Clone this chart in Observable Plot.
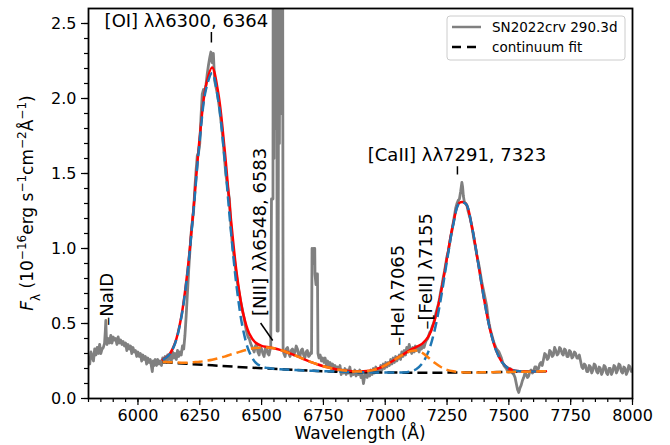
<!DOCTYPE html>
<html><head><meta charset="utf-8">
<script src="https://cdn.jsdelivr.net/npm/d3@7"></script>
<script src="https://cdn.jsdelivr.net/npm/@observablehq/plot@0.6"></script>
<style>body{margin:0;background:#fff} #chart{width:670px;height:445px}</style>
</head><body><div id="chart"></div>
<script>
// Observed spectrum: [wavelength (Å), flux (1e-16 erg/s/cm2/Å)]
const spectrum = [
[5800,0.27],[5805,0.23],[5810,0.31],[5815,0.28],[5820,0.25],[5825,0.33],[5830,0.29],[5835,0.34],[5840,0.30],[5845,0.36],
[5850,0.30],[5855,0.33],[5860,0.34],[5865,0.37],[5868,0.45],[5870,0.52],[5872,0.42],[5875,0.36],[5880,0.40],[5885,0.37],
[5890,0.42],[5895,0.37],[5900,0.41],[5905,0.39],[5910,0.40],[5915,0.36],[5920,0.41],[5925,0.37],[5930,0.39],[5935,0.36],
[5940,0.38],[5945,0.35],[5950,0.37],[5955,0.32],[5960,0.36],[5965,0.33],[5970,0.35],[5975,0.30],[5980,0.34],[5985,0.31],
[5990,0.32],[5995,0.28],[6000,0.31],[6005,0.28],[6010,0.30],[6015,0.25],[6020,0.29],[6025,0.26],[6030,0.28],[6035,0.23],
[6040,0.27],[6045,0.24],[6050,0.26],[6055,0.21],[6058,0.18],[6062,0.25],[6065,0.22],[6070,0.26],[6075,0.22],[6080,0.26],
[6085,0.23],[6090,0.25],[6095,0.22],[6100,0.27],[6105,0.24],[6110,0.28],[6115,0.24],[6120,0.29],[6125,0.26],[6130,0.28],
[6135,0.25],[6140,0.31],[6145,0.27],[6150,0.30],[6155,0.26],[6160,0.32],[6165,0.28],[6170,0.31],[6175,0.29],[6180,0.35],
[6185,0.33],[6190,0.42],[6195,0.55],[6200,0.70],[6205,0.85],[6210,0.98],[6215,1.10],[6220,1.18],[6225,1.25],[6230,1.40],
[6235,1.52],[6240,1.62],[6245,1.64],[6250,1.70],[6255,1.88],[6260,2.03],[6265,2.06],[6270,2.04],[6275,2.09],[6280,2.16],
[6285,2.22],[6290,2.27],[6295,2.31],[6300,2.24],[6305,2.30],[6310,2.12],[6315,2.08],[6320,2.04],[6325,1.99],[6330,1.93],
[6335,1.86],[6340,1.79],[6345,1.70],[6350,1.60],[6355,1.50],[6360,1.44],[6365,1.38],[6370,1.33],[6375,1.17],[6380,1.06],
[6385,0.99],[6390,0.93],[6395,0.86],[6400,0.80],[6405,0.74],[6410,0.70],[6415,0.65],[6420,0.61],[6425,0.57],[6430,0.53],
[6435,0.48],[6440,0.44],[6445,0.41],[6450,0.40],[6455,0.37],[6460,0.35],[6465,0.33],[6470,0.31],[6475,0.35],[6480,0.36],
[6485,0.31],[6490,0.29],[6495,0.34],[6500,0.33],[6505,0.30],[6510,0.28],[6515,0.33],[6520,0.34],[6525,0.30],[6530,0.29],
[6535,0.33],[6537,0.34],[6540,1.33],[6546,1.33],[6547,3.2],[6550,1.6],[6552,3.2],[6555,1.8],[6558,3.2],[6561,3.2],
[6563,0.45],[6567,0.45],[6569,3.2],[6572,1.7],[6575,3.2],[6578,1.9],[6581,3.2],[6585,3.2],
[6587,0.33],[6590,0.30],[6595,0.28],[6600,0.33],[6605,0.34],[6610,0.30],[6615,0.28],[6620,0.32],[6625,0.33],[6630,0.29],
[6635,0.31],[6640,0.35],[6645,0.33],[6650,0.29],[6655,0.28],[6660,0.32],[6665,0.33],[6670,0.29],[6675,0.27],[6680,0.31],
[6685,0.32],[6690,0.28],[6695,0.29],[6700,0.31],[6702,0.30],[6704,1.00],[6708,0.90],[6711,1.00],[6715,1.00],[6716,0.83],
[6720,0.76],[6723,0.83],[6726,0.83],[6728,0.30],
[6732,0.27],[6737,0.29],[6742,0.25],[6747,0.27],[6752,0.24],[6757,0.27],[6762,0.22],[6767,0.25],[6772,0.22],[6777,0.24],
[6782,0.20],[6787,0.23],[6792,0.20],[6797,0.22],[6802,0.18],[6807,0.21],[6812,0.19],[6817,0.22],[6822,0.16],[6827,0.19],
[6832,0.17],[6837,0.20],[6842,0.16],[6847,0.19],[6852,0.17],[6857,0.21],[6862,0.15],[6867,0.18],[6872,0.16],[6877,0.19],
[6882,0.15],[6887,0.18],[6892,0.16],[6897,0.19],[6902,0.14],[6907,0.16],[6912,0.10],[6917,0.15],[6922,0.17],[6927,0.14],
[6932,0.18],[6937,0.15],[6942,0.19],[6947,0.16],[6952,0.20],[6957,0.17],[6962,0.21],[6967,0.18],[6972,0.20],[6977,0.18],
[6982,0.22],[6987,0.19],[6992,0.23],[6997,0.20],[7002,0.24],[7007,0.21],[7012,0.24],[7017,0.22],[7022,0.26],[7027,0.23],
[7032,0.27],[7037,0.24],[7042,0.28],[7047,0.25],[7052,0.27],[7057,0.29],[7062,0.26],[7067,0.31],[7072,0.28],[7077,0.32],
[7082,0.29],[7087,0.34],[7092,0.31],[7097,0.36],[7102,0.33],[7107,0.30],[7112,0.34],[7117,0.31],[7122,0.35],[7127,0.32],
[7132,0.34],[7137,0.31],[7142,0.35],[7147,0.33],[7152,0.36],[7157,0.34],[7162,0.37],[7167,0.39],[7172,0.40],[7180,0.44],
[7185,0.45],[7190,0.48],[7195,0.50],[7200,0.53],[7205,0.57],[7210,0.60],[7215,0.63],[7220,0.67],[7225,0.72],[7230,0.76],
[7235,0.81],[7240,0.85],[7245,0.90],[7250,0.95],[7255,0.98],[7260,1.03],[7265,1.08],[7270,1.12],[7275,1.17],[7280,1.22],
[7285,1.27],[7290,1.30],[7295,1.32],[7300,1.33],[7305,1.38],[7310,1.44],[7313,1.41],[7316,1.35],[7320,1.31],[7325,1.30],
[7330,1.29],[7335,1.25],[7340,1.22],[7345,1.19],[7350,1.15],[7355,1.10],[7360,1.05],[7365,1.01],[7370,0.96],[7375,0.92],
[7380,0.88],[7385,0.83],[7390,0.78],[7395,0.74],[7400,0.70],[7405,0.66],[7410,0.62],[7415,0.55],[7420,0.50],[7425,0.46],
[7430,0.43],[7435,0.40],[7440,0.37],[7445,0.35],[7450,0.33],[7455,0.32],[7460,0.31],[7465,0.29],[7470,0.27],[7475,0.24],
[7480,0.22],[7485,0.21],[7490,0.20],[7495,0.18],[7500,0.18],[7505,0.20],[7510,0.19],[7515,0.17],[7520,0.16],[7525,0.14],
[7530,0.10],[7535,0.06],[7540,0.04],[7545,0.07],[7550,0.09],[7555,0.12],[7560,0.14],[7565,0.17],[7570,0.16],[7575,0.14],
[7580,0.15],[7585,0.18],[7590,0.19],[7595,0.17],[7600,0.18],[7605,0.21],[7610,0.21],[7615,0.19],[7620,0.20],[7625,0.23],
[7630,0.24],[7635,0.22],[7640,0.26],[7645,0.30],[7650,0.29],[7655,0.26],[7660,0.27],[7665,0.32],[7670,0.31],[7675,0.28],
[7680,0.29],[7685,0.34],[7690,0.32],[7695,0.29],[7700,0.30],[7705,0.34],[7710,0.33],[7715,0.30],[7720,0.29],[7725,0.33],
[7730,0.32],[7735,0.28],[7740,0.28],[7745,0.32],[7750,0.31],[7755,0.27],[7760,0.28],[7765,0.31],[7770,0.30],[7775,0.27],
[7780,0.27],[7785,0.29],[7790,0.25],[7795,0.21],[7800,0.20],[7805,0.23],[7810,0.22],[7815,0.18],[7820,0.18],[7825,0.22],
[7830,0.21],[7835,0.17],[7840,0.19],[7845,0.23],[7850,0.22],[7855,0.18],[7860,0.17],[7865,0.21],[7870,0.20],[7875,0.16],
[7880,0.18],[7885,0.22],[7890,0.21],[7895,0.17],[7900,0.16],[7905,0.20],[7910,0.20],[7915,0.16],[7920,0.18],[7925,0.22],
[7930,0.21],[7935,0.17],[7940,0.19],[7945,0.23],[7950,0.22],[7955,0.18],[7960,0.17],[7965,0.21],[7970,0.20],[7975,0.16],
[7980,0.18],[7985,0.22],[7990,0.21],[7995,0.18],[8000,0.19]];

// Continuum fit
const contWave = [6100,6200,6300,6400,6500,6600,6700,6800,6900,7000,7100,7200,7300,7400,7500,7650];
const contFlux = [0.243,0.231,0.221,0.211,0.202,0.193,0.185,0.179,0.175,0.173,0.172,0.172,0.173,0.175,0.177,0.182];

// Line-fit curves sampled every 25 Å
const fitWave = [6100,6125,6150,6175,6200,6225,6250,6275,6300,6325,6350,6375,6400,6425,6450,6475,6500,
6525,6550,6575,6600,6625,6650,6675,6700,6725,6750,6775,6800,6825,6850,6875,6900,6925,6950,6975,7000,
7025,7050,7075,7100,7125,7150,7175,7200,7225,7250,7275,7300,7325,7350,7375,7400,7425,7450,7475,7500,
7525,7550,7575,7600,7625,7650];
const totalFit = [0.259,0.290,0.370,0.542,0.844,1.272,1.744,2.087,2.207,2.034,1.669,1.213,0.826,0.569,0.433,0.373,0.351,
0.343,0.335,0.324,0.310,0.294,0.277,0.259,0.243,0.228,0.215,0.205,0.195,0.189,0.184,0.180,0.180,0.183,0.189,0.202,0.221,
0.245,0.272,0.296,0.322,0.343,0.366,0.414,0.522,0.704,0.939,1.166,1.305,1.300,1.150,0.911,0.659,0.452,0.314,0.236,0.199,
0.185,0.181,0.179,0.180,0.181,0.182];
const blueComp = [0.258,0.288,0.367,0.537,0.836,1.259,1.725,2.060,2.170,1.985,1.606,1.134,0.732,0.460,0.311,0.241,0.213,
0.203,0.198,0.195,0.193,0.191,0.189,0.187,0.185,0.184,0.182,0.181,0.179,0.178,0.177,0.176,0.175,0.175,0.174,0.174,0.173,
0.173,0.173,0.174,0.180,0.195,0.234,0.314,0.456,0.666,0.921,1.158,1.302,1.299,1.150,0.911,0.659,0.452,0.314,0.236,0.199,
0.185,0.181,0.179,0.180,0.181,0.182];
const orangeComp = [0.244,0.242,0.240,0.239,0.239,0.242,0.245,0.251,0.258,0.268,0.279,0.293,0.305,0.318,0.329,0.336,0.340,
0.340,0.335,0.324,0.310,0.294,0.277,0.259,0.243,0.228,0.215,0.205,0.195,0.189,0.184,0.180,0.180,0.183,0.189,0.202,0.221,
0.245,0.271,0.294,0.314,0.320,0.304,0.272,0.238,0.210,0.191,0.181,0.176,0.174,0.174,0.174,0.175,0.175,0.176,0.176,0.177,
0.178,0.179,0.179,0.180,0.181,0.182];

// Annotations
const annText = ["[OI] λλ6300, 6364", "[CaII] λλ7291, 7323", "–NaID", "[NII] λλ6548, 6583", "–HeI λ7065", "–[FeII] λ7155"];
const annX = [6196, 7290, 5876, 6496, 7054, 7167];
const annY = [2.513, 1.625, 0.661, 1.111, 0.688, 0.848];
const annRotate = [0, 0, -90, -90, -90, -90];
const markX = [6297, 7292];
const markY1 = [2.37, 1.49];
const markY2 = [2.44, 1.545];
const nIILink = {x1: 6496, y1: 0.503, x2: 6545, y2: 0.387};

const legendLabels = ["SN2022crv 290.3d", "continuum fit"];
const xTicks = [6000,6250,6500,6750,7000,7250,7500,7750,8000];
const yTicks = [0,0.5,1,1.5,2,2.5];
const xMinor = d3.range(5800, 8001, 50);
const yMinor = d3.range(0, 26).map(i => i / 10);

const spec = spectrum.map(([w, f]) => ({w, f}));
const cont = contWave.map((w, i) => ({w, f: contFlux[i]}));
const fit = fitWave.map((w, i) => ({w, red: totalFit[i], blue: blueComp[i], orange: orangeComp[i]}));
const ann = annText.map((t, i) => ({t, x: annX[i], y: annY[i], r: annRotate[i]}));
const marksTick = markX.map((x, i) => ({x, y1: markY1[i], y2: markY2[i]}));

const dash = "10,5";
const plot = Plot.plot({
  width: 670, height: 445,
  marginLeft: 88, marginRight: 38, marginTop: 8, marginBottom: 47,
  x: {domain: [5800, 8000], axis: null},
  y: {domain: [0, 2.6], axis: null},
  style: {fontFamily: "DejaVu Sans", fontSize: "16px", background: "white", color: "black", overflow: "visible"},
  marks: [
    Plot.line(spec, {x: "w", y: "f", stroke: "#808080", strokeWidth: 2.8, clip: true}),
    Plot.line(cont, {x: "w", y: "f", stroke: "black", strokeWidth: 2.5, strokeDasharray: dash, strokeLinecap: "butt"}),
    Plot.line(fit, {x: "w", y: "red", stroke: "red", strokeWidth: 2.5, curve: "catmull-rom"}),
    Plot.line(fit, {x: "w", y: "blue", stroke: "#1f77b4", strokeWidth: 2.5, curve: "catmull-rom", strokeDasharray: dash, strokeLinecap: "butt"}),
    Plot.line(fit, {x: "w", y: "orange", stroke: "#ff7f0e", strokeWidth: 2.5, curve: "catmull-rom", strokeDasharray: dash, strokeLinecap: "butt"}),
    Plot.ruleX(marksTick, {x: "x", y1: "y1", y2: "y2", stroke: "black", strokeWidth: 1.5}),
    Plot.link([nIILink], {x1: "x1", y1: "y1", x2: "x2", y2: "y2", stroke: "black", strokeWidth: 1.5}),
    Plot.text(ann, {x: "x", y: "y", text: "t", rotate: "r", fontSize: 18, fill: "black", textAnchor: "middle"}),
    Plot.axisX({ticks: xMinor, tickSize: 4, text: null, label: null, strokeWidth: 1.2}),
    Plot.axisX({ticks: xTicks, tickSize: 7, tickPadding: 4, fontSize: 16, tickFormat: d => String(d), label: null, strokeWidth: 1.2}),
    Plot.axisY({ticks: yMinor, tickSize: 4, text: null, label: null, strokeWidth: 1.2}),
    Plot.axisY({ticks: yTicks, tickSize: 7, tickPadding: 5, fontSize: 16, tickFormat: d3.format(".1f"), label: null, strokeWidth: 1.2}),
    Plot.frame({stroke: "black", strokeWidth: 1.8})
  ]
});
document.getElementById("chart").appendChild(plot);

const svg = d3.select(plot);
// x label
svg.append("text").attr("x", 360).attr("y", 439).attr("text-anchor", "middle")
  .attr("font-family", "DejaVu Sans").attr("font-size", 17).attr("fill", "black").text("Wavelength (Å)");
// y label
const yl = svg.append("text").attr("transform", "translate(33,203) rotate(-90)").attr("text-anchor", "middle")
  .attr("font-family", "DejaVu Sans").attr("font-size", 17).attr("fill", "black");
yl.append("tspan").attr("font-style", "italic").text("F");
yl.append("tspan").attr("font-size", 12).attr("baseline-shift", "sub").text("λ");
yl.append("tspan").text(" (10");
yl.append("tspan").attr("font-size", 12).attr("baseline-shift", "super").text("−16");
yl.append("tspan").text("erg s");
yl.append("tspan").attr("font-size", 12).attr("baseline-shift", "super").text("−1");
yl.append("tspan").text("cm");
yl.append("tspan").attr("font-size", 12).attr("baseline-shift", "super").text("−2");
yl.append("tspan").text("Å");
yl.append("tspan").attr("font-size", 12).attr("baseline-shift", "super").text("−1");
yl.append("tspan").text(")");
// legend
const lg = svg.append("g").attr("font-family", "DejaVu Sans").attr("font-size", 13.5).attr("text-anchor", "start");
lg.append("rect").attr("x", 447).attr("y", 16).attr("width", 178).attr("height", 44).attr("rx", 3)
  .attr("fill", "white").attr("fill-opacity", 0.8).attr("stroke", "#cccccc");
lg.append("line").attr("x1", 452).attr("x2", 481).attr("y1", 27).attr("y2", 27).attr("stroke", "#808080").attr("stroke-width", 2.5);
lg.append("text").attr("x", 492).attr("y", 27).attr("dy", "0.35em").attr("fill", "black").attr("text-anchor", "start").text(legendLabels[0]);
lg.append("line").attr("x1", 452).attr("x2", 481).attr("y1", 47).attr("y2", 47).attr("stroke", "black").attr("stroke-width", 2.5).attr("stroke-dasharray", "9,6");
lg.append("text").attr("x", 492).attr("y", 47).attr("dy", "0.35em").attr("fill", "black").attr("text-anchor", "start").text(legendLabels[1]);
</script>
</body></html>
